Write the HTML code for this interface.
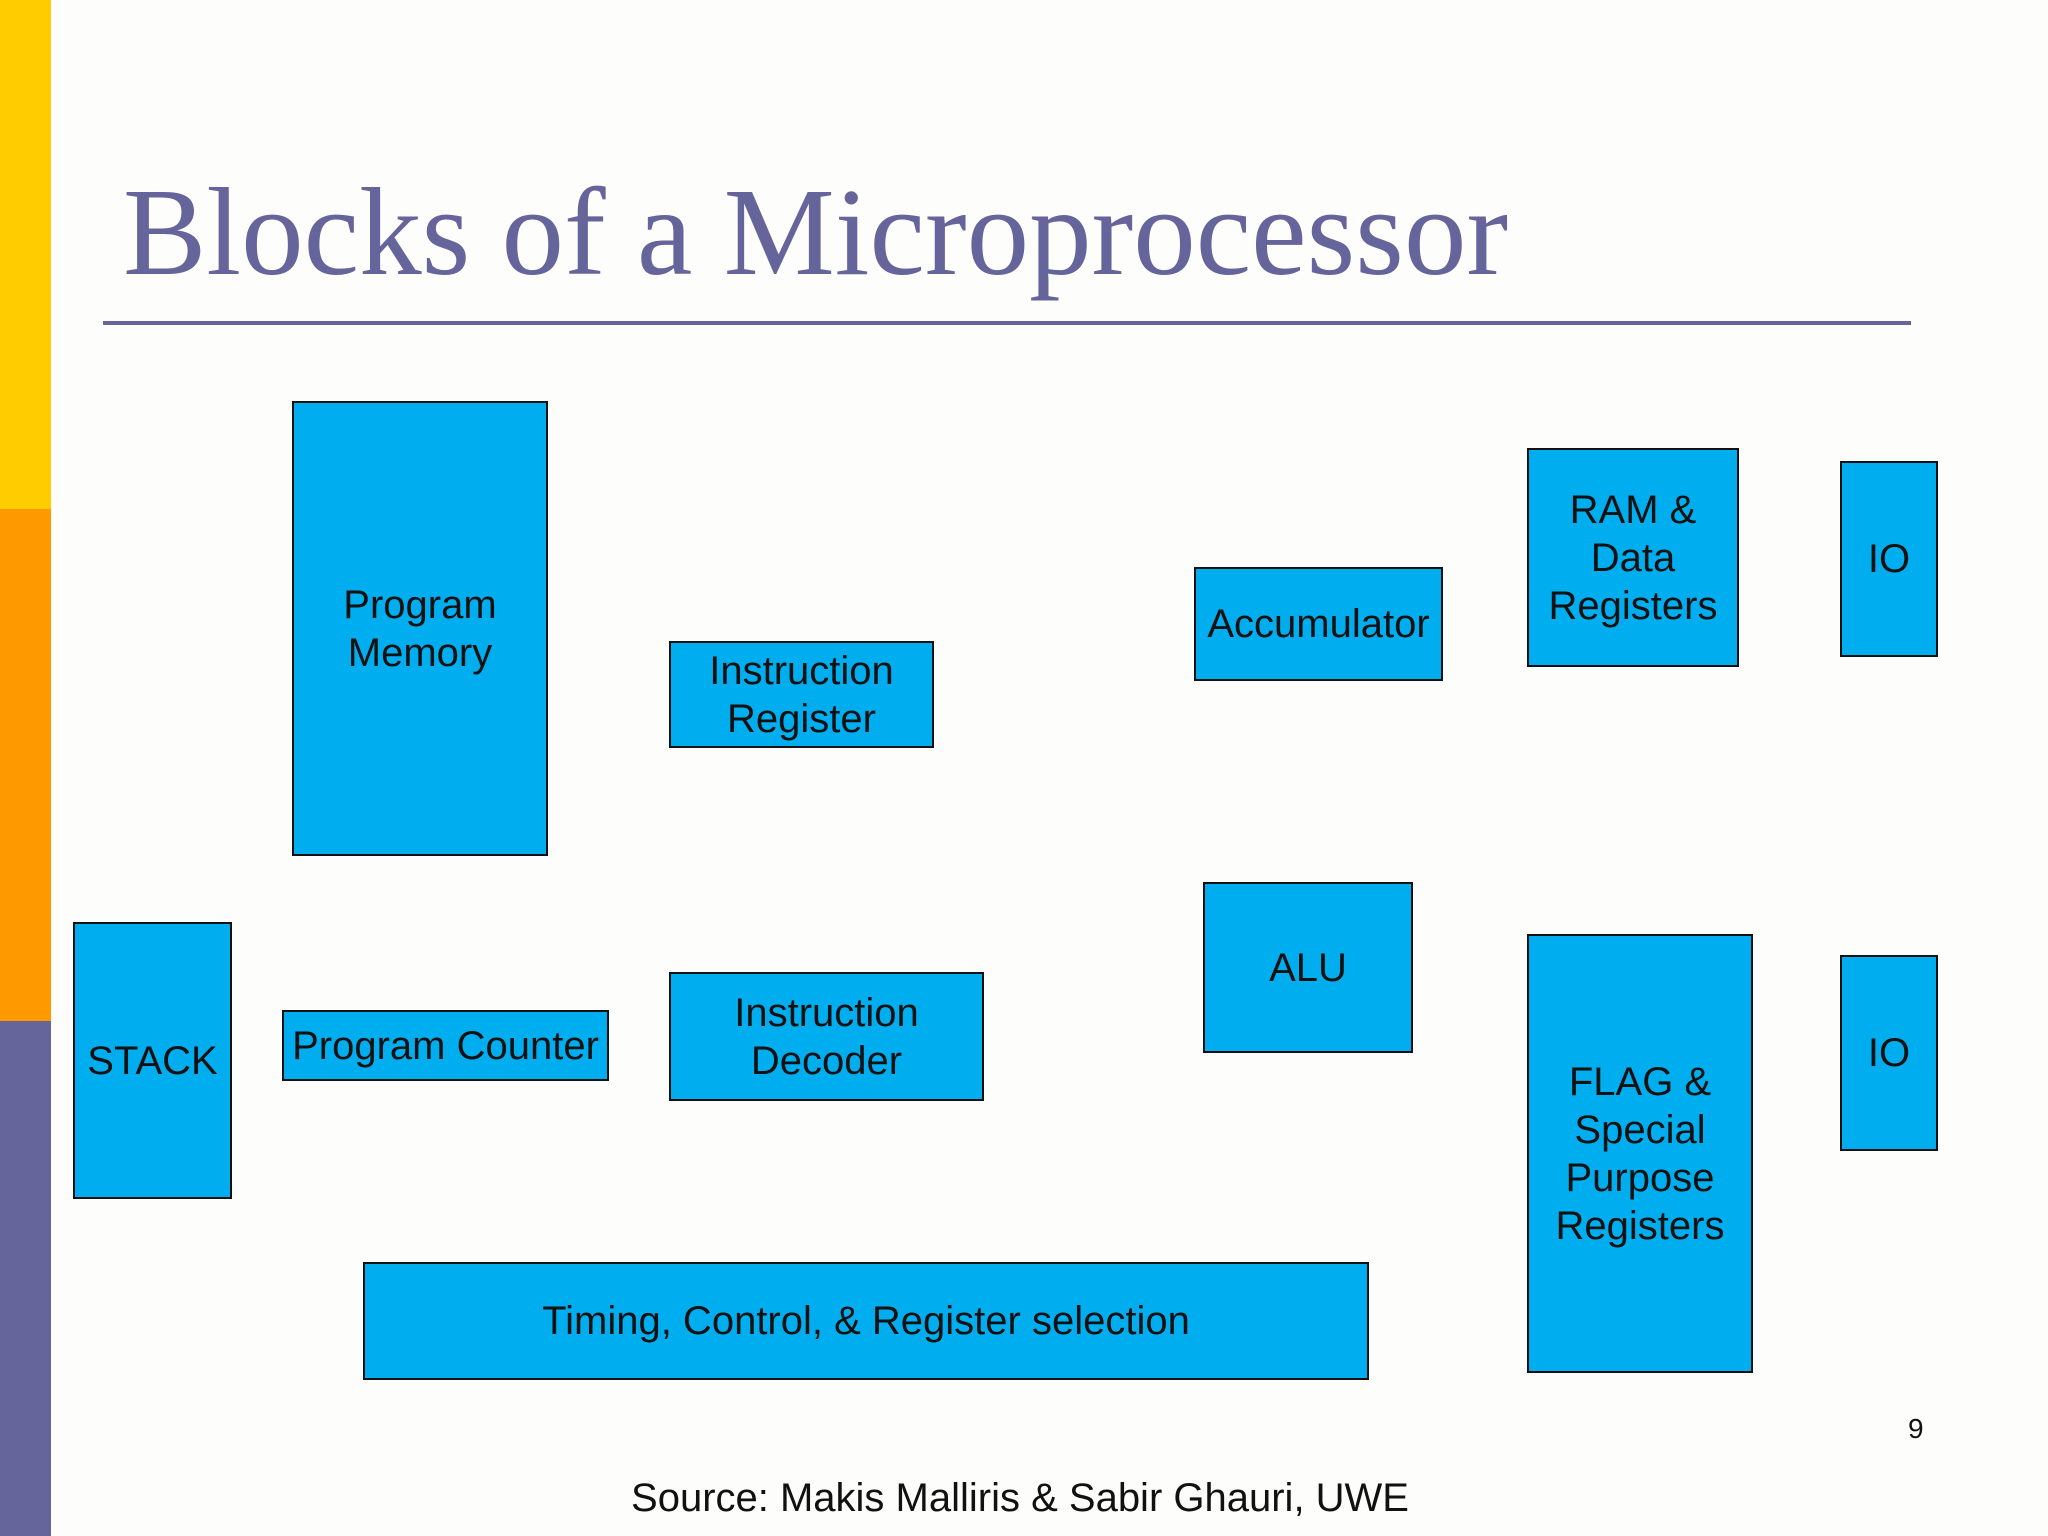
<!DOCTYPE html>
<html><head><meta charset="utf-8"><style>
html,body{margin:0;padding:0;}
body{width:2048px;height:1536px;position:relative;background:#fdfdfb;overflow:hidden;font-family:"Liberation Sans",sans-serif;}
.bar{position:absolute;left:0;width:51px;}
.b{position:absolute;box-sizing:border-box;background:#00aeef;border:2.5px solid #111;display:flex;align-items:center;justify-content:center;text-align:center;font-size:40px;line-height:48px;color:#111;}
</style></head><body>
<div class="bar" style="top:0;height:509px;background:#ffcc00"></div>
<div class="bar" style="top:509px;height:512px;background:#ff9900"></div>
<div class="bar" style="top:1021px;height:515px;background:#65659c"></div>
<div style="position:absolute;left:123px;top:163px;font-family:'Liberation Serif',serif;font-size:125px;line-height:140px;color:#65659c;white-space:nowrap;">Blocks of a Microprocessor</div>
<div style="position:absolute;left:103px;top:321px;width:1808px;height:4px;background:#65659c"></div>

<div class="b" style="left:292px;top:401px;width:256px;height:455px;">Program<br>Memory</div>
<div class="b" style="left:669px;top:641px;width:265px;height:107px;">Instruction<br>Register</div>
<div class="b" style="left:1194px;top:567px;width:249px;height:114px;">Accumulator</div>
<div class="b" style="left:1527px;top:448px;width:212px;height:219px;">RAM &amp;<br>Data<br>Registers</div>
<div class="b" style="left:1840px;top:461px;width:98px;height:196px;">IO</div>
<div class="b" style="left:73px;top:922px;width:159px;height:277px;">STACK</div>
<div class="b" style="left:282px;top:1010px;width:327px;height:71px;white-space:nowrap;">Program Counter</div>
<div class="b" style="left:669px;top:972px;width:315px;height:129px;">Instruction<br>Decoder</div>
<div class="b" style="left:1203px;top:882px;width:210px;height:171px;">ALU</div>
<div class="b" style="left:1527px;top:934px;width:226px;height:439px;">FLAG &amp;<br>Special<br>Purpose<br>Registers</div>
<div class="b" style="left:1840px;top:955px;width:98px;height:196px;">IO</div>
<div class="b" style="left:363px;top:1262px;width:1006px;height:118px;">Timing, Control, &amp; Register selection</div>

<div style="position:absolute;left:1908px;top:1413px;font-size:28px;color:#111;">9</div>
<div style="position:absolute;left:0;width:2040px;top:1476px;text-align:center;font-size:40px;color:#111;">Source: Makis Malliris &amp; Sabir Ghauri, UWE</div>
</body></html>
